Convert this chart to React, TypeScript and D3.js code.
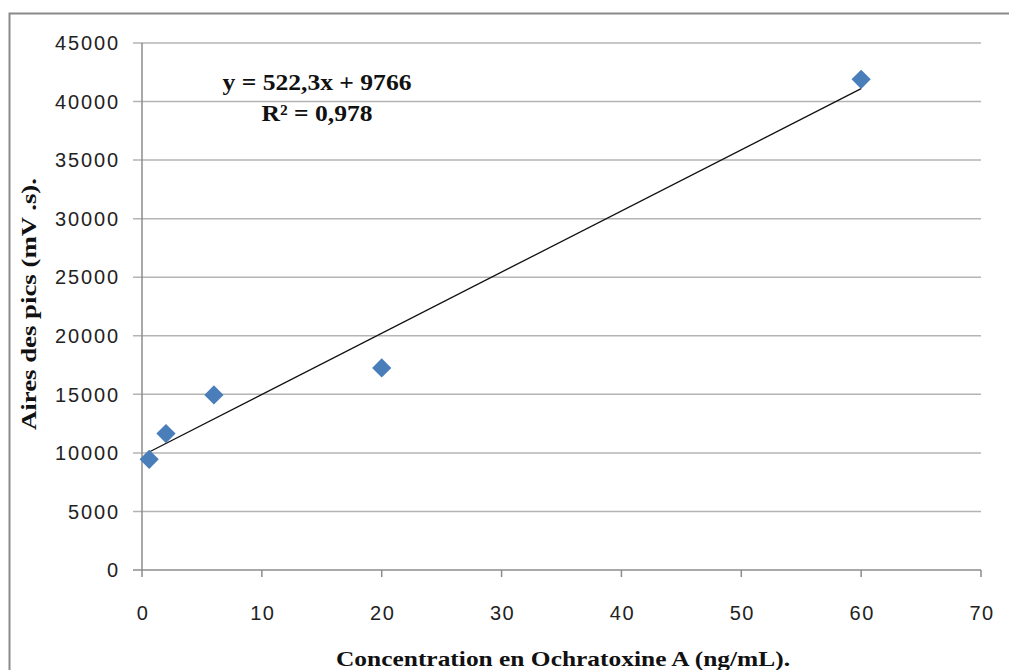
import React, { useEffect, useRef } from 'react';
import * as d3 from 'd3';

// concentration (ng/mL) and peak areas (mV.s)
const concentrations = [0.6, 2, 6, 20, 60];
const peakAreas = [9450, 11650, 14950, 17250, 41900];
const xTicks = [0, 10, 20, 30, 40, 50, 60, 70];
const yTicks = [0, 5000, 10000, 15000, 20000, 25000, 30000, 35000, 40000, 45000];
const slope = 522.3;
const intercept = 9766;
const equationLines = ['y = 522,3x + 9766', 'R² = 0,978'];

const W = 1009;
const H = 670;

const App = () => {
  const svgRef = useRef<SVGSVGElement | null>(null);

  useEffect(() => {
    const svg = d3.select(svgRef.current);
    svg.selectAll('*').remove();

    const margin = { top: 43, right: 28, bottom: 100, left: 142 };
    const width = W - margin.left - margin.right;
    const height = H - margin.top - margin.bottom;
    const serif = '"Liberation Serif", "Times New Roman", serif';
    const sans = '"Liberation Sans", Arial, sans-serif';

    // outer chart frame, runs off the right and bottom edge
    svg.append('rect')
      .attr('x', 9.5).attr('y', 13.5)
      .attr('width', 1100).attr('height', 800)
      .attr('fill', 'white')
      .attr('stroke', '#8a8a8a')
      .attr('stroke-width', 2);

    const g = svg.append('g')
      .attr('transform', `translate(${margin.left}, ${margin.top})`);

    const xScale = d3.scaleLinear().domain([0, 70]).range([0, width]);
    const yScale = d3.scaleLinear().domain([0, 45000]).range([height, 0]);

    // horizontal gridlines + left ticks
    g.append('g')
      .selectAll('line')
      .data(yTicks)
      .enter().append('line')
      .attr('x1', -9)
      .attr('x2', width)
      .attr('y1', d => yScale(d))
      .attr('y2', d => yScale(d))
      .attr('stroke', d => d === 0 ? '#8c8c8c' : '#b4b4b4')
      .attr('stroke-width', 1.5);

    // y axis line
    g.append('line')
      .attr('x1', 0).attr('x2', 0)
      .attr('y1', yScale(45000)).attr('y2', height)
      .attr('stroke', '#8c8c8c')
      .attr('stroke-width', 1.5);

    // x tick marks
    g.append('g')
      .selectAll('line')
      .data(xTicks)
      .enter().append('line')
      .attr('x1', d => xScale(d))
      .attr('x2', d => xScale(d))
      .attr('y1', height)
      .attr('y2', height + 7)
      .attr('stroke', '#8c8c8c')
      .attr('stroke-width', 1.5);

    // y tick labels
    g.append('g')
      .selectAll('text')
      .data(yTicks)
      .enter().append('text')
      .attr('x', -22)
      .attr('y', d => yScale(d))
      .attr('dy', '0.36em')
      .attr('text-anchor', 'end')
      .style('font-family', sans)
      .style('font-size', '20px')
      .style('letter-spacing', '1.9px')
      .style('fill', '#222')
      .text(d => String(d));

    // x tick labels
    g.append('g')
      .selectAll('text')
      .data(xTicks)
      .enter().append('text')
      .attr('x', d => xScale(d) + 1)
      .attr('y', height + 50)
      .attr('text-anchor', 'middle')
      .style('font-family', sans)
      .style('font-size', '20px')
      .style('letter-spacing', '1.5px')
      .style('fill', '#222')
      .text(d => String(d));

    // linear trendline over the data range
    const xExt = d3.extent(concentrations) as [number, number];
    g.append('line')
      .attr('x1', xScale(xExt[0]))
      .attr('y1', yScale(slope * xExt[0] + intercept))
      .attr('x2', xScale(xExt[1]))
      .attr('y2', yScale(slope * xExt[1] + intercept))
      .attr('stroke', '#111')
      .attr('stroke-width', 1.3);

    // diamond markers
    const diamond = d3.symbol().type(d3.symbolSquare).size(185);
    g.selectAll('.pt')
      .data(concentrations)
      .enter().append('path')
      .attr('class', 'pt')
      .attr('d', diamond)
      .attr('transform', (d, i) => `translate(${xScale(d)}, ${yScale(peakAreas[i])}) rotate(45)`)
      .attr('fill', '#4a7ebb');

    // equation label
    const eqWidths = [189, 111];
    g.append('g')
      .selectAll('text')
      .data(equationLines)
      .enter().append('text')
      .attr('x', xScale(14.6))
      .attr('y', (d, i) => yScale(41000) + i * 31)
      .attr('text-anchor', 'middle')
      .attr('textLength', (d, i) => eqWidths[i])
      .attr('lengthAdjust', 'spacingAndGlyphs')
      .style('font-family', serif)
      .style('font-weight', 'bold')
      .style('font-size', '23px')
      .style('fill', '#111')
      .text(d => d);

    // axis titles
    svg.append('text')
      .attr('x', 563)
      .attr('y', 666)
      .attr('text-anchor', 'middle')
      .attr('textLength', 454)
      .attr('lengthAdjust', 'spacingAndGlyphs')
      .style('font-family', serif)
      .style('font-weight', 'bold')
      .style('font-size', '22px')
      .style('fill', '#111')
      .text('Concentration en Ochratoxine A (ng/mL).');

    svg.append('text')
      .attr('transform', 'rotate(-90)')
      .attr('x', -304)
      .attr('y', 36)
      .attr('text-anchor', 'middle')
      .attr('textLength', 252)
      .attr('lengthAdjust', 'spacingAndGlyphs')
      .style('font-family', serif)
      .style('font-weight', 'bold')
      .style('font-size', '22px')
      .style('fill', '#111')
      .text('Aires des pics (mV .s).');
  }, []);

  return (
    <svg
      ref={svgRef}
      width={W}
      height={H}
      style={{ position: 'absolute', left: 0, top: 0, background: 'white' }}
    ></svg>
  );
};

export default App;
